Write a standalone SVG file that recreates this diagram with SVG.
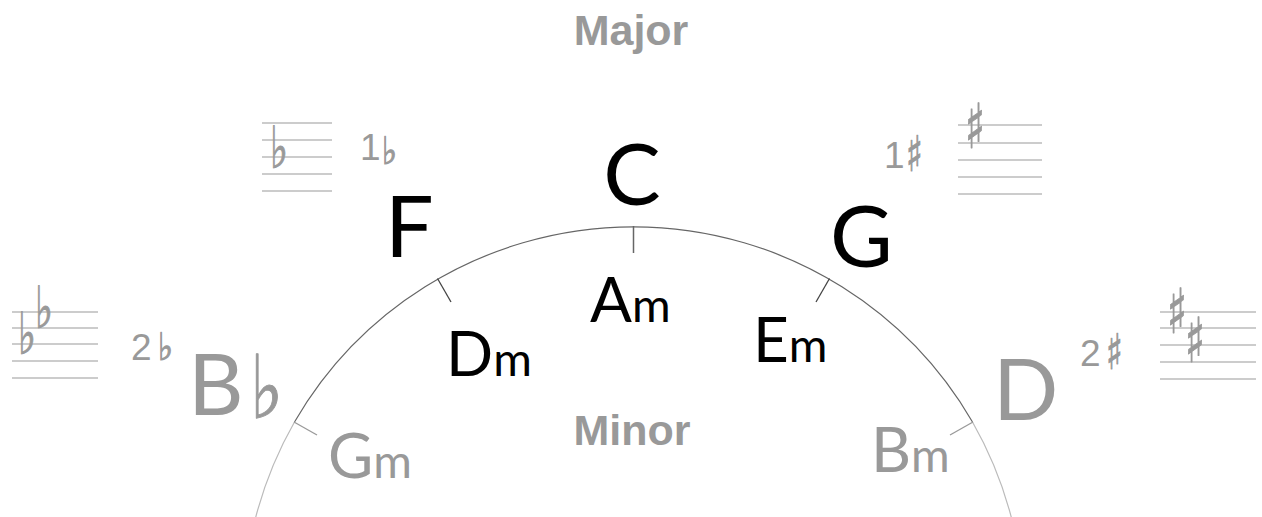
<svg xmlns="http://www.w3.org/2000/svg" width="1262" height="517" viewBox="0 0 1262 517">
<style>
.title{font-family:"Liberation Sans",Arial,sans-serif;font-weight:bold;font-size:43px;fill:#999;text-anchor:middle}
.big{font-family:Lato,"Open Sans",sans-serif;font-size:86px}
.mid{font-family:Lato,"Open Sans",sans-serif;font-size:62px}
.sm{font-size:47px}
.blk{fill:#000}
.gry{fill:#999}
.num{font-family:"Liberation Sans",Arial,sans-serif;font-size:37px;fill:#999}
.acc{font-family:"DejaVu Sans",sans-serif;fill:#999;stroke:#999;stroke-width:1}
.sf{font-size:58px}
.ss{font-size:62px}
.nf{font-size:38px}
.ns{font-size:49px}
.staff line{stroke:#bbb;stroke-width:1.3}
</style>
<g id="connectors" fill="none">
  <path d="M 255 520 A 392 392 0 0 1 294.5 422 M 972.5 422 A 392 392 0 0 1 1012 520" stroke="#bbb" stroke-width="1.2"/>
  <path d="M 294.5 422 A 392 392 0 0 1 972.5 422" stroke="#666" stroke-width="1.2"/>
  <line x1="633.5" y1="226" x2="633.5" y2="253" stroke="#666" stroke-width="1.5"/>
  <line x1="437.5" y1="278.5" x2="451" y2="302" stroke="#444" stroke-width="1.3"/>
  <line x1="829.5" y1="278.5" x2="816" y2="302" stroke="#444" stroke-width="1.3"/>
  <line x1="294" y1="422" x2="317" y2="435" stroke="#999" stroke-width="1.3"/>
  <line x1="973" y1="422" x2="950" y2="435" stroke="#999" stroke-width="1.3"/>
</g>
<g id="major-label"><text class="title" x="631" y="45">Major</text></g>
<g id="minor-label"><text class="title" x="632" y="445">Minor</text></g>
<g id="node-C"><text class="big blk" x="632" y="205" text-anchor="middle">C</text></g>
<g id="node-F"><text class="big blk" x="385" y="257">F</text></g>
<g id="node-G"><text class="big blk" x="830" y="267">G</text></g>
<g id="node-Bb"><text class="big gry" x="188" y="415">B</text><text class="acc" transform="translate(250,418) scale(0.8,1)" font-size="88">♭</text></g>
<g id="node-D"><text class="big gry" x="993" y="420">D</text></g>
<g id="node-Am"><text class="mid blk" x="590" y="322">A<tspan class="sm">m</tspan></text></g>
<g id="node-Dm"><text class="mid blk" x="446" y="376">D<tspan class="sm">m</tspan></text></g>
<g id="node-Em"><text class="mid blk" x="753" y="362">E<tspan class="sm">m</tspan></text></g>
<g id="node-Gm"><text class="mid gry" x="328" y="478">G<tspan class="sm">m</tspan></text></g>
<g id="node-Bm"><text class="mid gry" x="871" y="472">B<tspan class="sm">m</tspan></text></g>
<g id="key-1b">
  <g class="staff"><line x1="262" y1="123" x2="332" y2="123"/><line x1="262" y1="140" x2="332" y2="140"/><line x1="262" y1="157" x2="332" y2="157"/><line x1="262" y1="174" x2="332" y2="174"/><line x1="262" y1="191" x2="332" y2="191"/></g>
  <text class="acc sf" transform="translate(270,168) scale(0.66,1)">♭</text>
  <text class="num" x="360" y="160">1</text>
  <text class="acc nf" transform="translate(382,164) scale(0.85,1)">♭</text>
</g>
<g id="key-1s">
  <g class="staff"><line x1="958" y1="125" x2="1042" y2="125"/><line x1="958" y1="143" x2="1042" y2="143"/><line x1="958" y1="160" x2="1042" y2="160"/><line x1="958" y1="177" x2="1042" y2="177"/><line x1="958" y1="194" x2="1042" y2="194"/></g>
  <text class="acc ss" transform="translate(965,148) scale(0.67,1)">♯</text>
  <text class="num" x="884" y="168">1</text>
  <text class="acc ns" transform="translate(906,171) scale(0.72,1)">♯</text>
</g>
<g id="key-2b">
  <g class="staff"><line x1="12" y1="312" x2="98" y2="312"/><line x1="12" y1="328" x2="98" y2="328"/><line x1="12" y1="344" x2="98" y2="344"/><line x1="12" y1="361" x2="98" y2="361"/><line x1="12" y1="378" x2="98" y2="378"/></g>
  <text class="acc sf" transform="translate(18,354) scale(0.66,1)">♭</text>
  <text class="acc sf" transform="translate(35,328) scale(0.66,1)">♭</text>
  <text class="num" x="131" y="360">2</text>
  <text class="acc nf" transform="translate(158,360) scale(0.85,1)">♭</text>
</g>
<g id="key-2s">
  <g class="staff"><line x1="1160" y1="312" x2="1256" y2="312"/><line x1="1160" y1="328" x2="1256" y2="328"/><line x1="1160" y1="345" x2="1256" y2="345"/><line x1="1160" y1="362" x2="1256" y2="362"/><line x1="1160" y1="379" x2="1256" y2="379"/></g>
  <text class="acc ss" transform="translate(1167,333) scale(0.67,1)">♯</text>
  <text class="acc ss" transform="translate(1185,362) scale(0.67,1)">♯</text>
  <text class="num" x="1080" y="366">2</text>
  <text class="acc ns" transform="translate(1106,369) scale(0.72,1)">♯</text>
</g>
</svg>
